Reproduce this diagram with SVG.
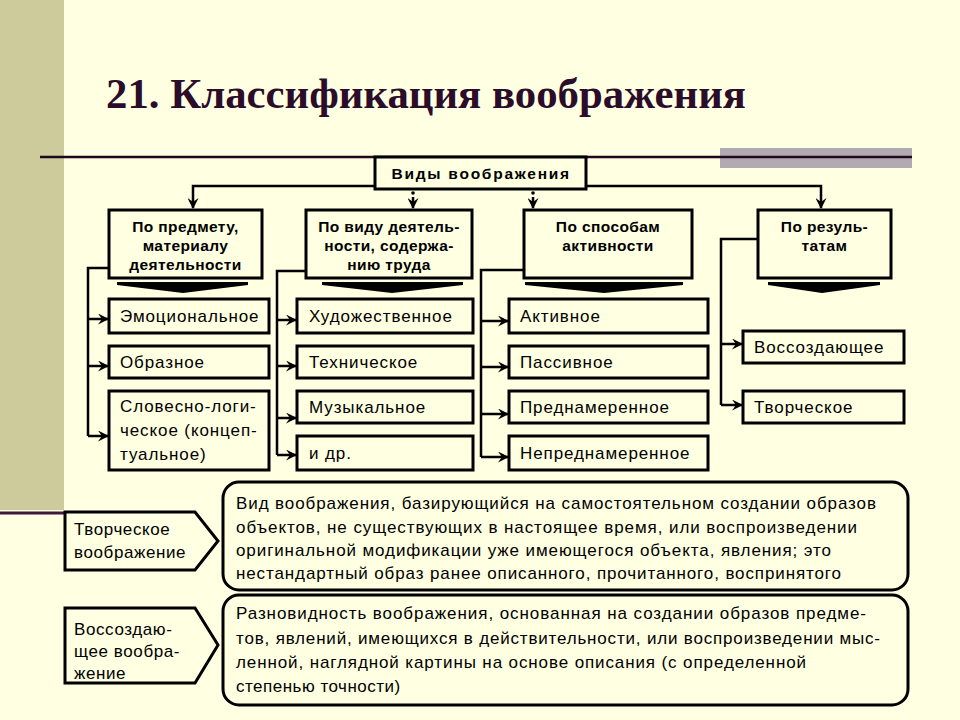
<svg xmlns="http://www.w3.org/2000/svg" width="960" height="720" viewBox="0 0 960 720">
<defs>
<marker id="ah" markerUnits="userSpaceOnUse" markerWidth="11" markerHeight="11" refX="10" refY="5.5" orient="auto"><path d="M0,0 L11,5.5 L0,11 L4,5.5 z" fill="#000"/></marker>
</defs>
<style>
.bg{fill:#FFFFE1}
.box{fill:#FFFFE1;stroke:#000;stroke-width:3}
.cat{font-family:"Liberation Sans",Arial,sans-serif;font-weight:bold;font-size:15.5px;text-anchor:middle;fill:#000;letter-spacing:0.4px}
.item{font-family:"Liberation Sans",Arial,sans-serif;font-size:17px;fill:#000;letter-spacing:0.9px}
.lab{font-family:"Liberation Sans",Arial,sans-serif;font-size:17px;fill:#000;letter-spacing:0.6px}
.txt{font-family:"Liberation Sans",Arial,sans-serif;font-size:17px;fill:#000}
.con{fill:none;stroke:#000;stroke-width:2.5}
.arr{fill:none;stroke:#000;stroke-width:2.5;marker-end:url(#ah)}
.chev{fill:#000}
</style>
<rect class="bg" x="0" y="0" width="960" height="720"/>
<rect x="0" y="0" width="64" height="510" fill="#CDCA9B"/>
<line x1="0" y1="513" x2="64" y2="513" stroke="#3C1A3C" stroke-width="3"/>
<rect x="720" y="148" width="192" height="20" fill="#B2AAB2"/>
<line x1="40" y1="157" x2="912" y2="157" stroke="#1E0A1C" stroke-width="2.5"/>
<text x="106" y="108" font-family="'Liberation Serif','Times New Roman',serif" font-weight="bold" font-size="43" fill="#2B0D2B" textLength="640" lengthAdjust="spacingAndGlyphs">21. Классификация воображения</text>

<g id="connectors">
<path class="arr" d="M375,186 H193 V208"/>
<path class="arr" d="M586,186 H821 V208"/>
<circle cx="413" cy="193" r="1.8" fill="#000"/>
<path class="arr" d="M413,197 V208"/>
<circle cx="533" cy="193" r="1.8" fill="#000"/>
<path class="arr" d="M533,197 V208"/>
<path class="con" d="M109,268 H88 V436"/>
<path class="arr" d="M88,319 H108"/>
<path class="arr" d="M88,366 H108"/>
<path class="arr" d="M88,436 H108"/>
<path class="con" d="M306,271 H277 V455"/>
<path class="arr" d="M277,320 H296"/>
<path class="arr" d="M277,366 H296"/>
<path class="arr" d="M277,418 H296"/>
<path class="arr" d="M277,455 H296"/>
<path class="con" d="M524,270 H481 V457"/>
<path class="arr" d="M481,321 H508"/>
<path class="arr" d="M481,367 H508"/>
<path class="arr" d="M481,414 H508"/>
<path class="arr" d="M481,457 H508"/>
<path class="con" d="M758,239 H721 V405"/>
<path class="arr" d="M721,344 H742"/>
<path class="arr" d="M721,405 H742"/>
</g>

<g id="root">
<rect class="box" x="375" y="157" width="211" height="32"/>
<text class="cat" x="480.5" y="179" font-size="17" textLength="178" lengthAdjust="spacing">Виды воображения</text>
</g>

<g id="cat1">
<rect class="box" x="109" y="210" width="153" height="68"/>
<text class="cat" x="185.5" y="232">По предмету,</text>
<text class="cat" x="185.5" y="251">материалу</text>
<text class="cat" x="185.5" y="270">деятельности</text>
<polygon class="chev" points="117,282 248,282 248,285 183,293 117,285"/>
</g>
<g id="cat2">
<rect class="box" x="306" y="210" width="166" height="68"/>
<text class="cat" x="389" y="232">По виду деятель-</text>
<text class="cat" x="389" y="251">ности, содержа-</text>
<text class="cat" x="389" y="270">нию труда</text>
<polygon class="chev" points="322,282 463,282 463,285 392,293 322,285"/>
</g>
<g id="cat3">
<rect class="box" x="524" y="210" width="168" height="68"/>
<text class="cat" x="608" y="232">По способам</text>
<text class="cat" x="608" y="251">активности</text>
<polygon class="chev" points="525,282 683,282 683,285 604,293 525,285"/>
</g>
<g id="cat4">
<rect class="box" x="758" y="210" width="133" height="68"/>
<text class="cat" x="824.5" y="232">По резуль-</text>
<text class="cat" x="824.5" y="251">татам</text>
<polygon class="chev" points="768,282 880,282 880,285 822,293 768,285"/>
</g>

<g id="item-emotional"><rect class="box" x="109" y="299" width="160" height="34"/><text class="item" x="120" y="322">Эмоциональное</text></g>
<g id="item-figurative"><rect class="box" x="109" y="346" width="160" height="32"/><text class="item" x="120" y="368">Образное</text></g>
<g id="item-verbal"><rect class="box" x="109" y="391" width="160" height="79"/>
<text class="item" x="120" y="412">Словесно-логи-</text>
<text class="item" x="120" y="436">ческое (концеп-</text>
<text class="item" x="120" y="460">туальное)</text></g>

<g id="item-artistic"><rect class="box" x="297" y="299" width="176" height="34"/><text class="item" x="309" y="322">Художественное</text></g>
<g id="item-technical"><rect class="box" x="297" y="346" width="176" height="32"/><text class="item" x="309" y="368">Техническое</text></g>
<g id="item-musical"><rect class="box" x="297" y="391" width="176" height="32"/><text class="item" x="309" y="413">Музыкальное</text></g>
<g id="item-etc"><rect class="box" x="297" y="436" width="176" height="34"/><text class="item" x="309" y="459">и др.</text></g>

<g id="item-active"><rect class="box" x="509" y="299" width="199" height="34"/><text class="item" x="520" y="322">Активное</text></g>
<g id="item-passive"><rect class="box" x="509" y="346" width="199" height="32"/><text class="item" x="520" y="368">Пассивное</text></g>
<g id="item-intentional"><rect class="box" x="509" y="391" width="199" height="32"/><text class="item" x="520" y="413">Преднамеренное</text></g>
<g id="item-unintentional"><rect class="box" x="509" y="436" width="199" height="34"/><text class="item" x="520" y="459">Непреднамеренное</text></g>

<g id="item-recreating"><rect class="box" x="743" y="331" width="161" height="32"/><text class="item" x="754" y="353">Воссоздающее</text></g>
<g id="item-creative"><rect class="box" x="743" y="391" width="161" height="32"/><text class="item" x="754" y="413">Творческое</text></g>

<g id="label-creative">
<polygon class="box" points="65,512 195,512 218,541 195,570 65,570"/>
<text class="lab" x="74" y="535">Творческое</text>
<text class="lab" x="74" y="558">воображение</text>
</g>
<g id="def-creative">
<rect class="box" x="223" y="482" width="685" height="108" rx="16"/>
<text class="txt" x="236" y="509" textLength="640" lengthAdjust="spacing">Вид воображения, базирующийся на самостоятельном создании образов</text>
<text class="txt" x="236" y="533" textLength="621" lengthAdjust="spacing">объектов, не существующих в настоящее время, или воспроизведении</text>
<text class="txt" x="236" y="556" textLength="595" lengthAdjust="spacing">оригинальной модификации уже имеющегося объекта, явления; это</text>
<text class="txt" x="236" y="579" textLength="605" lengthAdjust="spacing">нестандартный образ ранее описанного, прочитанного, воспринятого</text>
</g>
<g id="label-recreating">
<polygon class="box" points="65,608 195,608 218,645 195,683 65,683"/>
<text class="lab" x="74" y="635">Воссоздаю-</text>
<text class="lab" x="74" y="657">щее вообра-</text>
<text class="lab" x="74" y="679">жение</text>
</g>
<g id="def-recreating">
<rect class="box" x="223" y="595" width="685" height="110" rx="16"/>
<text class="txt" x="236" y="619" textLength="630" lengthAdjust="spacing">Разновидность воображения, основанная на создании образов предме-</text>
<text class="txt" x="236" y="644" textLength="644" lengthAdjust="spacing">тов, явлений, имеющихся в действительности, или воспроизведении мыс-</text>
<text class="txt" x="236" y="668" textLength="570" lengthAdjust="spacing">ленной, наглядной картины на основе описания (с определенной</text>
<text class="txt" x="236" y="692" letter-spacing="0.5">степенью точности)</text>
</g>
</svg>
